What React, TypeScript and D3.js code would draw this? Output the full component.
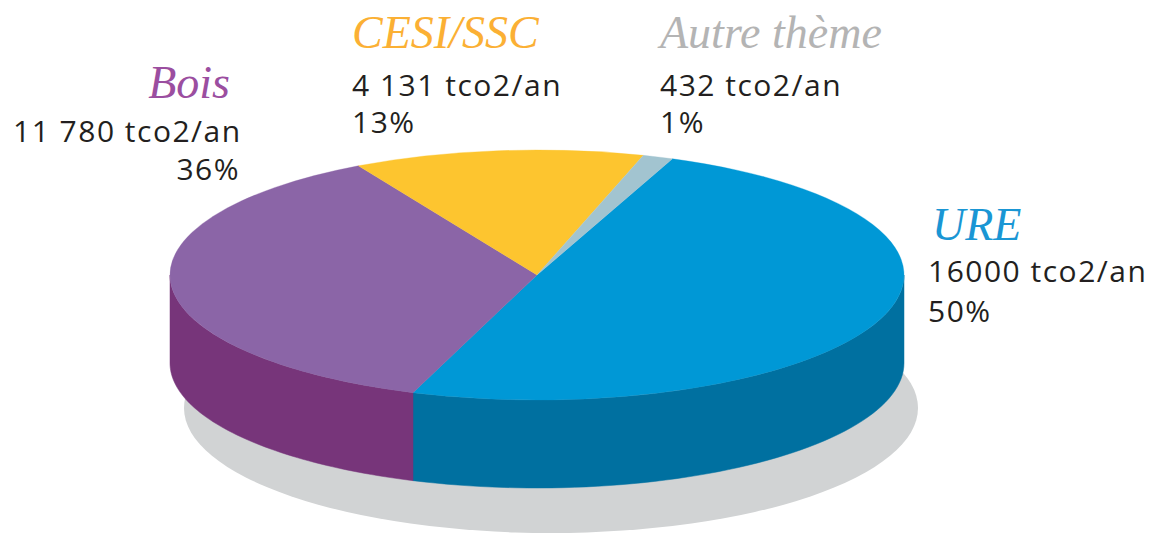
import React, { useRef, useEffect } from 'react';
import * as d3 from 'd3';

// données du graphique
const categories = ['URE', 'Bois', 'CESI/SSC', 'Autre thème'];
const values = [16000, 11780, 4131, 432];
const valueLabels = ['16000 tco2/an', '11 780 tco2/an', '4 131 tco2/an', '432 tco2/an'];
const percentLabels = ['50%', '36%', '13%', '1%'];
const topColors = ['#0098d6', '#8b65a7', '#fdc52f', '#a2c4d0'];
const sideColors = ['#0070a0', '#77357a', '#d9a21c', '#7fa2ae'];
const titleColors = ['#1a96d4', '#9b4ea0', '#fbb034', '#b4b4b4'];

const App = () => {
    const svgRef = useRef(null);

    useEffect(() => {
        document.body.style.margin = '0';

        const svgWidth = 1160;
        const svgHeight = 534;

        const cx = 537, cy = 275;
        const rx = 367, ry = 125;
        const depth = 88;

        const svg = d3.select(svgRef.current)
            .attr('width', svgWidth)
            .attr('height', svgHeight);
        svg.selectAll('*').remove();

        const color = d3.scaleOrdinal().domain(categories).range(topColors);
        const sideColor = d3.scaleOrdinal().domain(categories).range(sideColors);

        const start = 0.378;
        const pie = d3.pie()
            .sort(null)
            .value((d) => d.value)
            .startAngle(start)
            .endAngle(start + 2 * Math.PI);

        const arcs = pie(categories.map((c, i) => ({ name: c, value: values[i] })));

        const pt = (a, dy) => [cx + rx * Math.sin(a), cy + dy - ry * Math.cos(a)];

        // ombre
        svg.append('ellipse')
            .attr('cx', cx + 14)
            .attr('cy', cy + 133)
            .attr('rx', rx)
            .attr('ry', ry)
            .attr('fill', '#d1d3d4');

        // faces latérales (moitié avant)
        const line = d3.line();
        arcs.forEach((d) => {
            const lo = Math.max(d.startAngle, Math.PI / 2);
            const hi = Math.min(d.endAngle, 3 * Math.PI / 2);
            if (hi <= lo) return;
            const steps = d3.range(0, 61).map((k) => lo + (hi - lo) * k / 60);
            const pts = steps.map((a) => pt(a, 0)).concat(steps.slice().reverse().map((a) => pt(a, depth)));
            svg.append('path')
                .attr('d', line(pts) + 'Z')
                .attr('fill', sideColor(d.data.name))
                .attr('stroke', sideColor(d.data.name))
                .attr('stroke-width', 0.5);
        });

        // dessus
        const arc = d3.arc().innerRadius(0).outerRadius(rx);
        const top = svg.append('g')
            .attr('transform', `translate(${cx},${cy}) scale(1,${ry / rx})`);
        top.selectAll('path')
            .data(arcs)
            .enter()
            .append('path')
            .attr('d', arc)
            .attr('fill', (d) => color(d.data.name))
            .attr('stroke', (d) => color(d.data.name))
            .attr('stroke-width', 0.5);

        // étiquettes
        const labelPos = [
            { x: 932, y: 240, anchor: 'start', numX: 928 },
            { x: 230, y: 98, anchor: 'end', numX: 240 },
            { x: 352, y: 48, anchor: 'start', numX: 352 },
            { x: 660, y: 48, anchor: 'start', numX: 660 },
        ];
        const numOffset = [[42, 82], [44, 82], [48, 85], [48, 85]];

        categories.forEach((c, i) => {
            const p = labelPos[i];
            const g = svg.append('g');
            g.append('text')
                .attr('x', p.x)
                .attr('y', p.y)
                .attr('text-anchor', p.anchor)
                .attr('font-family', 'Liberation Serif, serif')
                .attr('font-style', 'italic')
                .attr('font-size', 46)
                .attr('fill', titleColors[i])
                .text(c);
            g.append('text')
                .attr('x', i === 1 ? 13 : p.numX)
                .attr('y', p.y + numOffset[i][0])
                .attr('font-family', 'Open Sans, sans-serif')
                .attr('font-size', 30)
                .attr('letter-spacing', 1.5)
                .attr('fill', '#231f20')
                .text(valueLabels[i]);
            g.append('text')
                .attr('x', p.numX)
                .attr('y', p.y + numOffset[i][1])
                .attr('text-anchor', p.anchor)
                .attr('font-family', 'Open Sans, sans-serif')
                .attr('font-size', 30)
                .attr('letter-spacing', 1.5)
                .attr('fill', '#231f20')
                .text(percentLabels[i]);
        });
    }, []);

    return (
        <div>
            <svg ref={svgRef} style={{ display: 'block' }} />
        </div>
    );
};

export default App;
